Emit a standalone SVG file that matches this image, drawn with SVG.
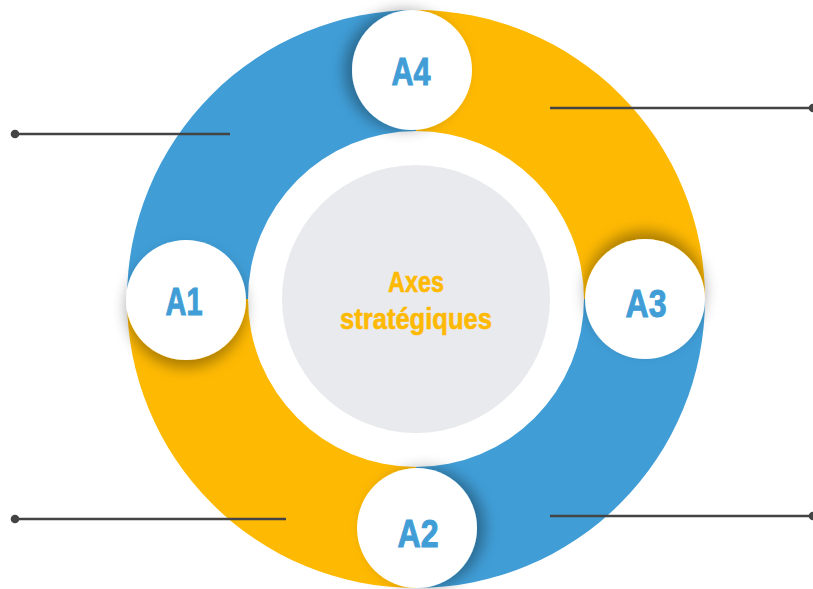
<svg xmlns="http://www.w3.org/2000/svg" width="813" height="589" viewBox="0 0 813 589">
  <style>
    .blue { fill: #409DD6; }
    .yellow { fill: #FEB902; }
    .badge { fill: #FFFFFF; }
    .lbl { font-family: "Liberation Sans", Arial, sans-serif; font-weight: bold; font-size: 39px; fill: #409DD6; stroke: #409DD6; stroke-width: 1; text-anchor: middle; }
    .center { font-family: "Liberation Sans", Arial, sans-serif; font-weight: bold; font-size: 29px; fill: #FEB902; stroke: #FEB902; stroke-width: 0.6; text-anchor: middle; }
    .conn { stroke: #444444; stroke-width: 2.4; fill: none; }
    .dot { fill: #444444; }
  </style>
  <defs>
    <filter id="shL" x="-50%" y="-50%" width="200%" height="200%">
      <feDropShadow dx="-8" dy="0" stdDeviation="7" flood-color="#000" flood-opacity="0.33"/>
    </filter>
    <filter id="shD" x="-50%" y="-50%" width="200%" height="200%">
      <feDropShadow dx="0" dy="8" stdDeviation="7" flood-color="#000" flood-opacity="0.33"/>
    </filter>
    <filter id="shR" x="-50%" y="-50%" width="200%" height="200%">
      <feDropShadow dx="8" dy="0" stdDeviation="7" flood-color="#000" flood-opacity="0.33"/>
    </filter>
    <filter id="shU" x="-50%" y="-50%" width="200%" height="200%">
      <feDropShadow dx="0" dy="-8" stdDeviation="7" flood-color="#000" flood-opacity="0.33"/>
    </filter>
  </defs>

  <g id="ring">
    <path class="blue" d="M127,299 A289,289 0 0 1 416,10 L416,131 A168,168 0 0 0 248,299 Z"/>
    <path class="yellow" d="M416,10 A289,289 0 0 1 705,299 L584,299 A168,168 0 0 0 416,131 Z"/>
    <path class="blue" d="M705,299 A289,289 0 0 1 416,588 L416,467 A168,168 0 0 0 584,299 Z"/>
    <path class="yellow" d="M416,588 A289,289 0 0 1 127,299 L248,299 A168,168 0 0 0 416,467 Z"/>
  </g>

  <g id="connectors">
    <line class="conn" x1="15" y1="134" x2="230" y2="134"/>
    <circle class="dot" cx="15" cy="134" r="4.3"/>
    <line class="conn" x1="550" y1="108" x2="813" y2="108"/>
    <circle class="dot" cx="813" cy="108" r="4.3"/>
    <line class="conn" x1="15" y1="519" x2="286" y2="519"/>
    <circle class="dot" cx="15" cy="519" r="4.3"/>
    <line class="conn" x1="550" y1="516" x2="813" y2="516"/>
    <circle class="dot" cx="813" cy="516" r="4.3"/>
  </g>

  <g id="center">
    <circle cx="416" cy="299" r="134" fill="#E9EAEE"/>
    <text class="center" x="416" y="292" textLength="56" lengthAdjust="spacingAndGlyphs">Axes</text>
    <text class="center" x="416" y="329" textLength="152" lengthAdjust="spacingAndGlyphs">stratégiques</text>
  </g>

  <g id="A4">
    <circle class="badge" cx="412" cy="70" r="60" filter="url(#shL)"/>
    <text class="lbl" x="411" y="85" textLength="39" lengthAdjust="spacingAndGlyphs">A4</text>
  </g>
  <g id="A1">
    <circle class="badge" cx="186" cy="300" r="60" filter="url(#shD)"/>
    <text class="lbl" x="184" y="315" textLength="37" lengthAdjust="spacingAndGlyphs">A1</text>
  </g>
  <g id="A2">
    <circle class="badge" cx="417" cy="528" r="60" filter="url(#shR)"/>
    <text class="lbl" x="418" y="547" textLength="41" lengthAdjust="spacingAndGlyphs">A2</text>
  </g>
  <g id="A3">
    <circle class="badge" cx="645" cy="299" r="60" filter="url(#shU)"/>
    <text class="lbl" x="646" y="317" textLength="41" lengthAdjust="spacingAndGlyphs">A3</text>
  </g>
</svg>
